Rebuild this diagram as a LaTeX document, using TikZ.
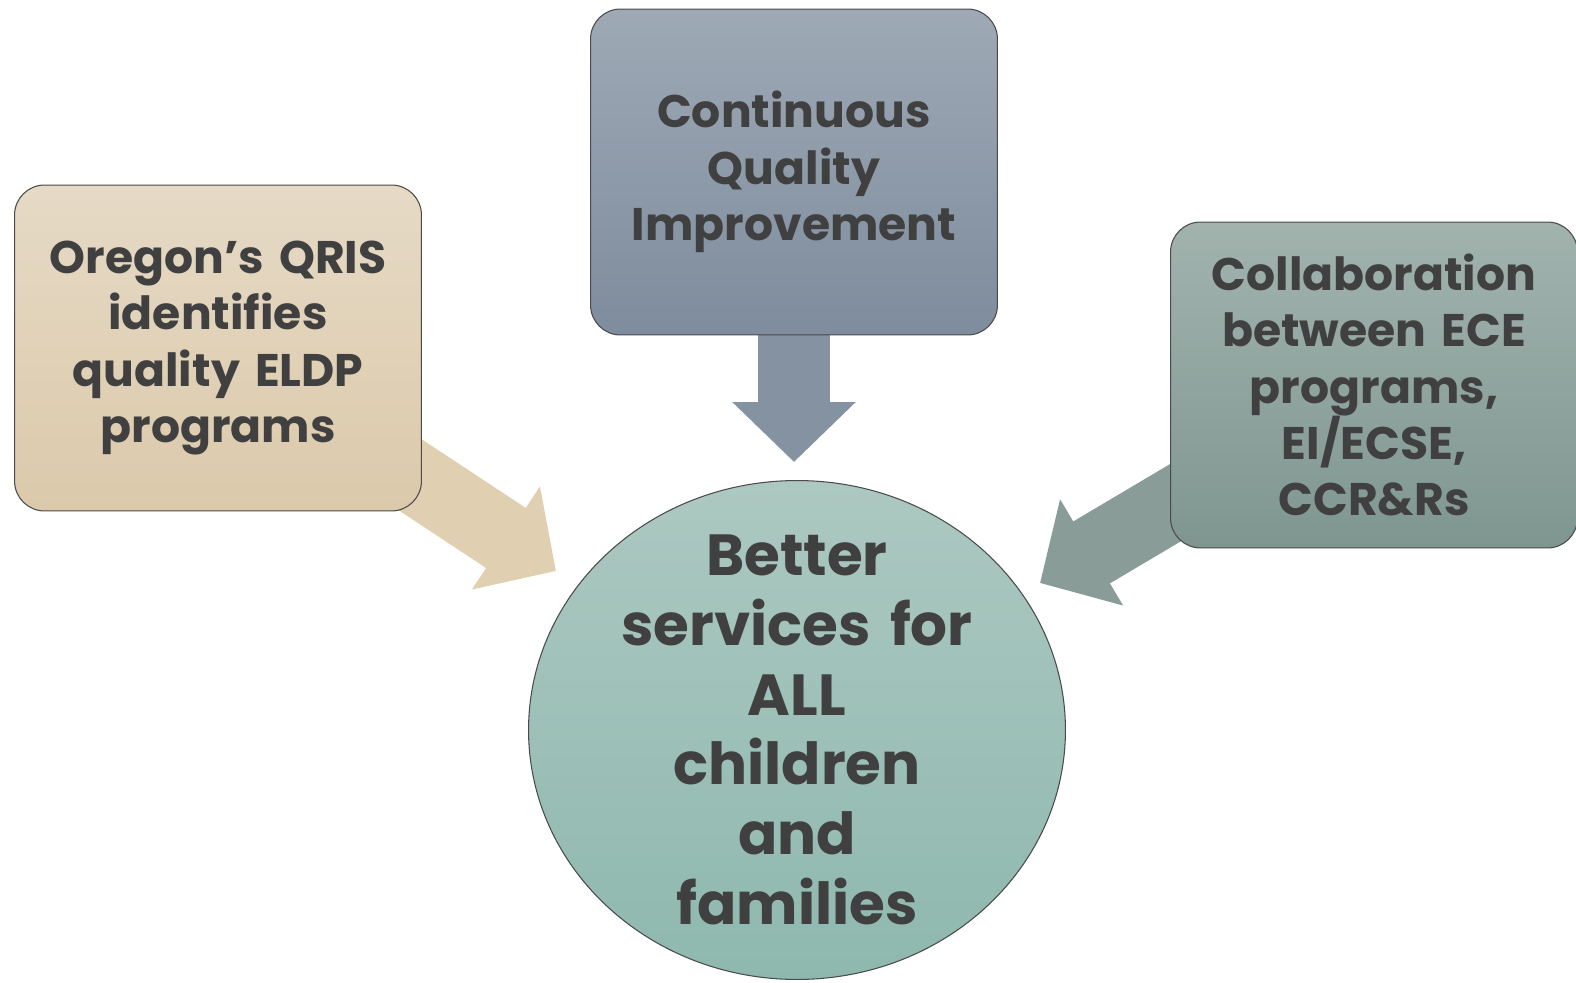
\documentclass[tikz,border=0pt]{standalone}
\usepackage{fontspec}
\setmainfont{Poppins}
\usepackage{tikz}
\usetikzlibrary{positioning}
\usetikzlibrary{shapes.geometric}
\usetikzlibrary{arrows.meta}
\usetikzlibrary{backgrounds}

\definecolor{inkgray}{HTML}{404040}
\definecolor{rimgray}{HTML}{4A4A4A}
\definecolor{sandTop}{HTML}{E6DAC6}
\definecolor{sandBot}{HTML}{DBC9AA}
\definecolor{sandArrow}{HTML}{E0CFB1}
\definecolor{slateTop}{HTML}{9EA9B5}
\definecolor{slateBot}{HTML}{7E8C9D}
\definecolor{slateArrow}{HTML}{8592A2}
\definecolor{sageTop}{HTML}{A2B3AE}
\definecolor{sageBot}{HTML}{7F9690}
\definecolor{sageArrow}{HTML}{8A9C97}
\definecolor{tealTop}{HTML}{ACC8C1}
\definecolor{tealBot}{HTML}{8EB8AE}

\tikzstyle{feed} = [line width=1.44cm, -{Triangle[length=1.2cm,width=2.4cm]}]

\begin{document}
\begin{tikzpicture}[x=0.02cm, y=-0.02cm]

	\tikzstyle{box} = [rectangle, draw=rimgray, line width=0.6pt, rounded corners=0.6cm, minimum width=8.14cm, minimum height=6.52cm, text width=7.8cm, align=center, text=inkgray, font=\fontsize{26}{32}\selectfont\bfseries]
	\tikzstyle{hub} = [ellipse, draw=rimgray, line width=0.6pt, minimum width=10.74cm, minimum height=9.98cm]
	\tikzstyle{hubtext} = [text width=7.6cm, align=center, text=inkgray, font=\fontsize{33}{39.7}\selectfont\bfseries]

	\useasboundingbox (0,0) rectangle (1576,983);

	% Place nodes
	\node [box, top color=sandTop, bottom color=sandBot] (qris) at (218,348) {Oregon’s QRIS\\identifies\\quality ELDP\\programs};
	\node [box, top color=slateTop, bottom color=slateBot] (cqi) at (794,172) {Continuous\\Quality\\Improvement};
	\node [box, top color=sageTop, bottom color=sageBot] (collab) at (1374,385) {Collaboration\\between ECE\\programs,\\EI/ECSE,\\CCR\&Rs};
	\node [hub, top color=tealTop, bottom color=tealBot, label={[hubtext]center:{Better\\services for\\ALL\\children\\and\\families}}] (better) at (797,730) {};

	% arrow tips in front of the circle
	\coordinate (qrisTip) at (556,571);
	\coordinate (cqiTip) at (794,462);
	\coordinate (collabTip) at (1040,583);

	\begin{scope}[on background layer]
		\draw [feed, draw=sandArrow] (qris.center) -- (qrisTip);
		\draw [feed, draw=slateArrow] (cqi.center) -- (cqiTip);
		\draw [feed, draw=sageArrow] (collab.center) -- (collabTip);
	\end{scope}

\end{tikzpicture}
\end{document}
